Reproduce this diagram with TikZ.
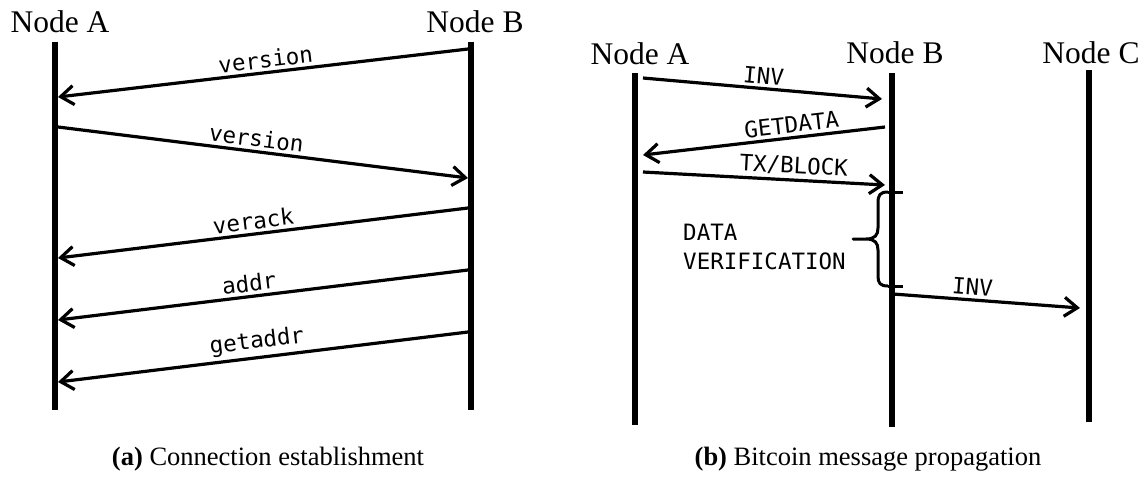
\documentclass[tikz,border=0pt]{standalone}
\usepackage{fontspec}
\setmainfont{Liberation Serif}
\newfontfamily\msgfont{DejaVu Sans Mono}
\usetikzlibrary{arrows.meta}

\begin{document}
\begin{tikzpicture}[x=1pt,y=-1pt,
  lifeline/.style={line width=6.5pt},
  msg/.style={line width=3.2pt,-{Straight Barb[length=13pt,width=19pt]}},
  plainmsg/.style={line width=3.2pt},
  msglabel/.style={font=\msgfont\fontsize{22.5}{27}\selectfont, sloped, above, inner sep=3pt},
  actor/.style={font=\fontsize{31.5}{36}\selectfont, anchor=base, inner sep=0pt},
  caption/.style={font=\fontsize{26.5}{30}\selectfont, anchor=base, inner sep=0pt},
  bracepath/.style={line width=3pt, line join=round},
]
\useasboundingbox (0,0) rectangle (1144,477);

% ---------------- (a) connection establishment ----------------
\node[actor] (aA) at (60,32) {Node A};
\node[actor] (aB) at (475,32) {Node B};

\coordinate (aAtop) at (55,42);  \coordinate (aAbot) at (55,410);
\coordinate (aBtop) at (471,42); \coordinate (aBbot) at (471,410);
\draw[lifeline] (aAtop) -- (aAbot);
\draw[lifeline] (aBtop) -- (aBbot);

\coordinate (m1s) at (468,49);  \coordinate (m1e) at (58,97);
\coordinate (m2s) at (58,127);  \coordinate (m2e) at (468,178);
\coordinate (m3s) at (468,208); \coordinate (m3e) at (58,258);
\coordinate (m4s) at (468,270); \coordinate (m4e) at (58,320);
\coordinate (m5s) at (468,332); \coordinate (m5e) at (58,382);

\draw[msg] (m1s) -- node[msglabel, pos=0.49] {version} (m1e);
\draw[msg] (m2s) -- node[msglabel, pos=0.48] {version} (m2e);
\draw[msg] (m3s) -- node[msglabel, pos=0.52] {verack} (m3e);
\draw[msg] (m4s) -- node[msglabel, pos=0.53] {addr} (m4e);
\draw[msg] (m5s) -- node[msglabel, pos=0.51] {getaddr} (m5e);

\node[caption] (capa) at (268,465) {\textbf{(a)} Connection establishment};

% ---------------- (b) bitcoin message propagation ----------------
\node[actor] (bA) at (640,64) {Node A};
\node[actor] (bB) at (895,63) {Node B};
\node[actor] (bC) at (1091,63) {Node C};

\coordinate (bAtop) at (635,73);  \coordinate (bAbot) at (635,425);
\coordinate (bBtop) at (892,73);  \coordinate (bBbot) at (892,427);
\coordinate (bCtop) at (1089,70); \coordinate (bCbot) at (1089,422);
\draw[lifeline] (bAtop) -- (bAbot);
\draw[lifeline] (bBtop) -- (bBbot);
\draw[lifeline] (bCtop) -- (bCbot);

\coordinate (p1s) at (643,78);  \coordinate (p1e) at (882,99);
\coordinate (p2s) at (885,127); \coordinate (p2e) at (643,155);
\coordinate (p3s) at (643,172); \coordinate (p3e) at (885,185);
\coordinate (p4s) at (893,294); \coordinate (p4e) at (1080,308);

\draw[msg] (p1s) -- node[msglabel, pos=0.5] {INV} (p1e);
\draw[msg] (p2s) -- node[msglabel, pos=0.38] {GETDATA} (p2e);
\draw[msg] (p3s) -- node[msglabel, pos=0.62] {TX/BLOCK} (p3e);
\draw[msg] (p4s) -- node[msglabel, pos=0.42] {INV} (p4e);

% verification interval on Node B
\coordinate (vtop) at (888,192);
\coordinate (vbot) at (888,286);
\coordinate (vtip) at (853,239);
\draw[bracepath] (vtop) -- (903,192);
\draw[bracepath] (vbot) -- (903,286);
\draw[bracepath] (vtop) .. controls (880,192) and (878,195) .. (878,203)
  -- (878,228) .. controls (878,235) and (875,239) .. (866,239) -- (vtip)
  -- (866,239) .. controls (875,239) and (878,243) .. (878,250)
  -- (878,276) .. controls (878,283) and (880,286) .. (vbot);

\node[font=\msgfont\fontsize{22.5}{29}\selectfont, align=left, anchor=west, inner sep=0pt]
  (verif) at (683,247) {DATA\\VERIFICATION};

\node[caption] (capb) at (868,465) {\textbf{(b)} Bitcoin message propagation};
\end{tikzpicture}
\end{document}
